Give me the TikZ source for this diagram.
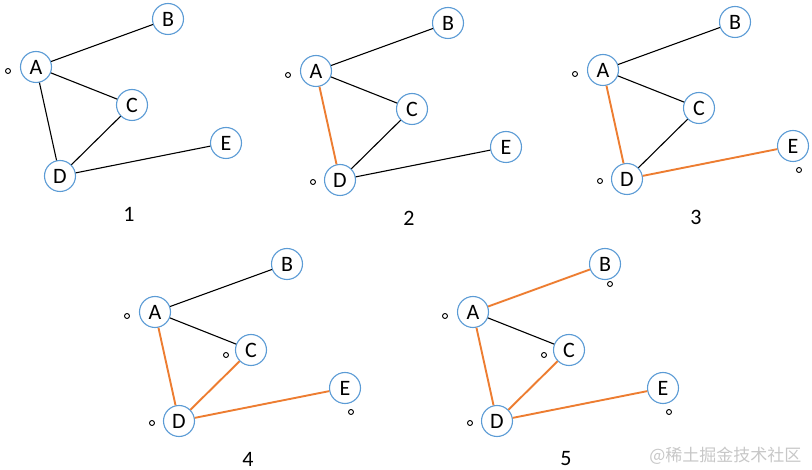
\documentclass[tikz,border=0pt]{standalone}
\usepackage{fontspec}
\setmainfont{Carlito}
\newfontfamily\cjkfont{Noto Sans CJK SC}
\usepackage{xcolor}
\usepackage{tikz}
\definecolor{nodeblue}{HTML}{5B9BD5}
\definecolor{pathorange}{HTML}{ED7D31}

\begin{document}
\begin{tikzpicture}[x=1pt,y=-1pt,
  vertex/.style={circle,draw=nodeblue,line width=1.1pt,fill=white,minimum size=31pt,inner sep=0pt,font=\fontsize{22}{22}\selectfont},
  plain/.style={line width=1.1pt,black},
  picked/.style={line width=1.9pt,pathorange},
  visit/.style={circle,draw=black,line width=0.9pt,minimum size=5pt,inner sep=0pt},
  step label/.style={font=\fontsize{22}{22}\selectfont}]
  \useasboundingbox (0,0) rectangle (812,470);
  % the five snapshots share one layout
  \foreach \g/\dx/\dy in {1/0/0,2/280/4,3/567/3,4/119/245,5/437/245}{
    \begin{scope}[shift={(\dx,\dy)}]
      \node[vertex] (A\g) at (36,67) {A};
      \node[vertex] (B\g) at (168,19) {B};
      \node[vertex] (C\g) at (132,105) {C};
      \node[vertex] (D\g) at (60,176) {D};
      \node[vertex] (E\g) at (226,143) {E};
      \node[step label] (n\g) at (129,214) {\g};
    \end{scope}
  }
  % black edges
  \foreach \u/\v in {A1/B1,A1/C1,A1/D1,C1/D1,D1/E1,
                     A2/B2,A2/C2,C2/D2,D2/E2,
                     A3/B3,A3/C3,C3/D3,
                     A4/B4,A4/C4,
                     A5/C5}
    \draw[plain] (\u) -- (\v);
  % orange edges
  \foreach \u/\v in {A2/D2,
                     A3/D3,D3/E3,
                     A4/D4,C4/D4,D4/E4,
                     A5/B5,A5/D5,C5/D5,D5/E5}
    \draw[picked] (\u) -- (\v);
  % visited marks
  \foreach \g in {1,...,5}
    \node[visit] (vA\g) at ([shift={(-28,4)}]A\g) {};
  \foreach \g in {2,...,5}
    \node[visit] (vD\g) at ([shift={(-27,2)}]D\g) {};
  \foreach \g in {3,4,5}
    \node[visit] (vE\g) at ([shift={(6,24)}]E\g) {};
  \foreach \g in {4,5}
    \node[visit] (vC\g) at ([shift={(-25,5)}]C\g) {};
  \node[visit] (vB5) at ([shift={(5,20)}]B5) {};
  \node[anchor=east,text=black!22,font=\cjkfont\fontsize{17}{17}\selectfont] (mark) at (805,456) {@稀土掘金技术社区};
\end{tikzpicture}
\end{document}
